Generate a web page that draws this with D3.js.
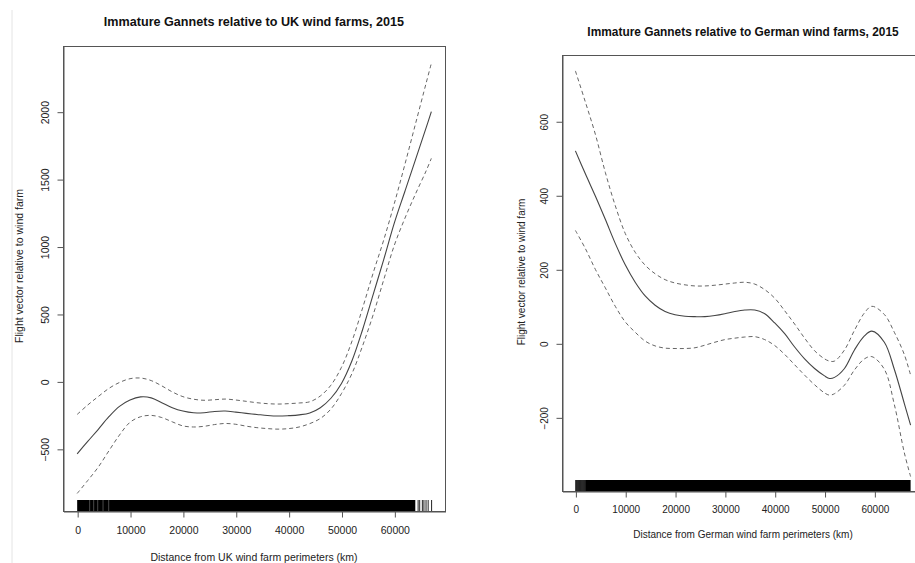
<!DOCTYPE html>
<html>
<head>
<meta charset="utf-8">
<script src="https://cdn.jsdelivr.net/npm/d3@7"></script>
<style>
  html, body { margin: 0; padding: 0; background: #fff; }
  svg { display: block; font-family: "Liberation Sans", Arial, Helvetica, sans-serif; }
</style>
</head>
<body>
<svg id="chart" width="915" height="563"></svg>
<script>
// ---------------- DATA ----------------
const titles = ["Immature Gannets relative to UK wind farms, 2015",
                "Immature Gannets relative to German wind farms, 2015"];
const xTitles = ["Distance from UK wind farm perimeters (km)",
                 "Distance from German wind farm perimeters (km)"];
const yTitle = "Flight vector relative to wind farm";

const xTicks = [0, 10000, 20000, 30000, 40000, 50000, 60000];
const ukYTicks = [-500, 0, 500, 1000, 1500, 2000];
const deYTicks = [-200, 0, 200, 400, 600];

// UK panel
const ukDist  = [0, 2000, 4000, 6000, 8000, 10000, 12000, 14000, 16000, 18000, 20000, 22000, 24000, 26000, 28000, 30000, 32000, 34000, 36000, 38000, 40000, 42000, 44000, 46000, 48000, 50000, 52000, 54000, 56000, 58000, 60000, 62000, 64000, 66000, 67000];
const ukFit   = [-537, -445, -355, -262, -185, -138, -115, -122, -158, -195, -220, -233, -232, -223, -220, -228, -237, -245, -253, -257, -254, -248, -234, -195, -125, -15, 155, 385, 645, 905, 1175, 1410, 1645, 1880, 2000];
const ukUpper = [-245, -175, -112, -52, -8, 20, 25, 6, -33, -78, -113, -132, -140, -136, -131, -138, -148, -158, -165, -168, -165, -160, -151, -108, -28, 105, 300, 545, 805, 1050, 1320, 1610, 1910, 2210, 2359];
const ukLower = [-831, -735, -635, -515, -398, -303, -262, -252, -268, -300, -330, -338, -333, -320, -312, -318, -332, -343, -350, -354, -350, -338, -313, -275, -205, -90, 60, 265, 495, 755, 1010, 1210, 1390, 1560, 1654];

// German panel
const deDist  = [0, 2000, 4000, 6000, 8000, 10000, 12000, 14000, 16000, 18000, 20000, 22000, 24000, 26000, 28000, 30000, 32000, 34000, 36000, 38000, 40000, 42000, 44000, 46000, 48000, 50000, 51000, 52000, 54000, 56000, 58000, 59500, 62000, 64000, 66000, 67270];
const deFit   = [520, 458, 398, 335, 270, 212, 165, 128, 103, 86, 77, 73, 72, 72, 75, 80, 86, 90, 90, 80, 55, 26, -10, -42, -68, -88, -95, -92, -68, -18, 20, 33, 3, -70, -162, -221];
const deUpper = [736, 652, 565, 462, 372, 297, 246, 211, 188, 172, 163, 158, 155, 155, 157, 160, 163, 165, 160, 145, 122, 88, 52, 14, -20, -42, -48, -48, -18, 35, 82, 100, 78, 30, -30, -86];
const deLower = [305, 256, 200, 150, 100, 58, 30, 6, -7, -13, -14, -14, -12, -5, 3, 10, 14, 17, 18, 10, -6, -30, -58, -86, -112, -134, -140, -136, -113, -72, -42, -36, -70, -165, -295, -360];

// Rug: dense bands [from, to], sparse observations, and lighter spots inside the dense band
const ukRugBands = [[0, 63960]];
const ukRugLines = [64400, 64700, 65200, 65500, 65900, 66300, 66950];
const ukRugLight = [2270, 3030, 3790, 4800, 5870];
const deRugBands = [[1950, 67270]];
const deRugLines = [0, 200, 450, 700, 950, 1200, 1450, 1700];
const deRugLight = [];

// ---------------- DRAW ----------------
const svg = d3.select("#chart");
const textCol = "#222";
const axisCol = "#555";

// faint page separator at far left
svg.append("line").attr("x1", 12).attr("x2", 12).attr("y1", 10).attr("y2", 563)
   .attr("stroke", "#e4e4e4").attr("stroke-width", 1);

function panel(cfg) {
  const x = d3.scaleLinear().domain(cfg.xDomain).range([cfg.left, cfg.right]);
  const y = d3.scaleLinear().domain(cfg.yDomain).range([cfg.bottom, cfg.top]);
  const g = svg.append("g");
  const fs = cfg.fontSize;

  // rug
  const rug = g.append("g");
  if (cfg.rugFill) {
    rug.append("rect").attr("x", x(cfg.rugLines[0])).attr("width", x(cfg.rugBands[0][0]) - x(cfg.rugLines[0]))
       .attr("y", cfg.bottom - cfg.rugH).attr("height", cfg.rugH).attr("fill", "#3a3a3a");
  }
  rug.selectAll("rect.band").data(cfg.rugBands).join("rect").attr("class", "band")
     .attr("x", d => x(d[0])).attr("width", d => Math.max(1, x(d[1]) - x(d[0])))
     .attr("y", cfg.bottom - cfg.rugH).attr("height", cfg.rugH).attr("fill", "#000");
  rug.selectAll("line.obs").data(cfg.rugLines).join("line").attr("class", "obs")
     .attr("x1", d => x(d) + 0.5).attr("x2", d => x(d) + 0.5)
     .attr("y1", cfg.bottom - cfg.rugH).attr("y2", cfg.bottom)
     .attr("stroke", "#222").attr("stroke-width", 1);
  rug.selectAll("line.light").data(cfg.rugLight).join("line").attr("class", "light")
     .attr("x1", d => x(d) + 0.5).attr("x2", d => x(d) + 0.5)
     .attr("y1", cfg.bottom - cfg.rugH).attr("y2", cfg.bottom)
     .attr("stroke", "#4a4a4a").attr("stroke-width", 1);

  // box
  g.append("rect").attr("x", cfg.left + 0.5).attr("y", cfg.top + 0.5)
   .attr("width", cfg.right - cfg.left).attr("height", cfg.bottom - cfg.top)
   .attr("fill", "none").attr("stroke", axisCol).attr("stroke-width", 1);

  // curves
  const line = d3.line().x((d, i) => x(cfg.dist[i])).y(d => y(d)).curve(d3.curveCatmullRom.alpha(0.5));
  g.append("path").attr("d", line(cfg.upper)).attr("fill", "none")
   .attr("stroke", "#666").attr("stroke-width", 1).attr("stroke-dasharray", "4,3");
  g.append("path").attr("d", line(cfg.lower)).attr("fill", "none")
   .attr("stroke", "#666").attr("stroke-width", 1).attr("stroke-dasharray", "4,3");
  g.append("path").attr("d", line(cfg.fit)).attr("fill", "none")
   .attr("stroke", "#444").attr("stroke-width", 1.1);

  // x axis
  const xa = g.append("g").attr("transform", `translate(0.5,${cfg.bottom + 0.5})`)
    .call(d3.axisBottom(x).tickValues(xTicks).tickSize(6).tickSizeOuter(0).tickPadding(4).tickFormat(d3.format("d")));
  xa.select(".domain").attr("stroke", axisCol);
  xa.selectAll(".tick line").attr("stroke", axisCol);
  xa.selectAll(".tick text").attr("font-size", fs).attr("fill", textCol).attr("font-family", null)
    .attr("y", cfg.xLabOff).attr("dy", "0.35em");

  // y axis
  const ya = g.append("g").attr("transform", `translate(${cfg.left + 0.5},0.5)`)
    .call(d3.axisLeft(y).tickValues(cfg.yTicks).tickSize(6).tickSizeOuter(0).tickFormat(d3.format("d")));
  ya.select(".domain").attr("stroke", axisCol);
  ya.selectAll(".tick line").attr("stroke", axisCol);
  ya.selectAll(".tick text").attr("font-size", fs).attr("fill", textCol).attr("font-family", null)
    .attr("x", null).attr("dy", null)
    .attr("text-anchor", "middle").attr("dominant-baseline", "central")
    .attr("transform", `translate(${-cfg.yLabOff},0) rotate(-90)`);

  // titles
  g.append("text").attr("x", cfg.titleX).attr("y", cfg.titleY).attr("text-anchor", "middle")
   .attr("dominant-baseline", "central").attr("font-weight", "bold").attr("font-size", cfg.titleSize)
   .attr("fill", "#111").text(cfg.title);
  g.append("text").attr("x", cfg.titleX).attr("y", cfg.xTitleY).attr("text-anchor", "middle")
   .attr("dominant-baseline", "central").attr("font-size", fs).attr("fill", textCol).text(cfg.xTitle);
  g.append("text").attr("transform", `translate(${cfg.yTitleX},${cfg.yTitleY}) rotate(-90)`)
   .attr("text-anchor", "middle").attr("dominant-baseline", "central")
   .attr("font-size", fs).attr("fill", textCol).text(yTitle);
}

panel({
  xDomain: [-2680, 69580], yDomain: [-961, 2487],
  left: 63, right: 445, top: 46, bottom: 511,
  dist: ukDist, fit: ukFit, upper: ukUpper, lower: ukLower,
  rugBands: ukRugBands, rugLines: ukRugLines, rugLight: ukRugLight, rugFill: false, rugH: 11,
  yTicks: ukYTicks, xLabOff: 19, yLabOff: 19, fontSize: 10.5,
  title: titles[0], titleX: 254, titleY: 22, titleSize: 12.6,
  xTitle: xTitles[0], xTitleY: 556.5, yTitleX: 19, yTitleY: 266
});

panel({
  xDomain: [-2690, 69960], yDomain: [-399, 779],
  left: 562, right: 924, top: 55, bottom: 491,
  dist: deDist, fit: deFit, upper: deUpper, lower: deLower,
  rugBands: deRugBands, rugLines: deRugLines, rugLight: deRugLight, rugFill: true, rugH: 11,
  yTicks: deYTicks, xLabOff: 18, yLabOff: 18, fontSize: 10,
  title: titles[1], titleX: 743, titleY: 32, titleSize: 11.9,
  xTitle: xTitles[1], xTitleY: 534, yTitleX: 521, yTitleY: 272
});
</script>
</body>
</html>
